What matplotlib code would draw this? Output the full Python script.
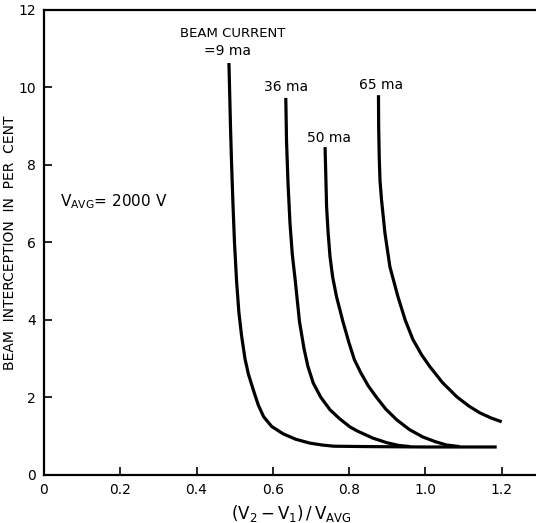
"""
Beam interception vs (V2 - V1)/V_avg for several beam currents
"""

import matplotlib.pyplot as plt

# curve data: x = (V2-V1)/Vavg, y = interception (%)
x_9ma = [0.485, 0.489, 0.492, 0.4955, 0.4995, 0.505, 0.511, 0.518, 0.527, 0.536,
         0.549, 0.562, 0.576, 0.597, 0.627, 0.66, 0.697, 0.73, 0.76, 0.85, 1.0, 1.187]
y_9ma = [10.63, 9.0, 8.0, 7.0, 6.0, 5.0, 4.2, 3.6, 3.0, 2.6,
         2.19, 1.8, 1.5, 1.25, 1.06, 0.92, 0.82, 0.77, 0.74, 0.73, 0.72, 0.72]

x_36ma = [0.634, 0.636, 0.640, 0.645, 0.651, 0.659, 0.670, 0.682, 0.692, 0.706,
          0.726, 0.75, 0.775, 0.802, 0.82, 0.862, 0.899, 0.93, 0.96]
y_36ma = [9.73, 8.6, 7.5, 6.5, 5.7, 5.0, 3.95, 3.25, 2.8, 2.37,
          2.0, 1.68, 1.45, 1.24, 1.14, 0.95, 0.83, 0.76, 0.73]

x_50ma = [0.737, 0.739, 0.741, 0.745, 0.750, 0.757, 0.767, 0.784, 0.800, 0.814,
          0.831, 0.850, 0.872, 0.896, 0.925, 0.958, 0.993, 1.025, 1.056, 1.09]
y_50ma = [8.46, 7.7, 6.92, 6.25, 5.63, 5.1, 4.6, 3.95, 3.4, 2.97,
          2.63, 2.3, 2.0, 1.7, 1.42, 1.17, 0.98, 0.86, 0.77, 0.73]

x_65ma = [0.877, 0.8775, 0.879, 0.881, 0.885, 0.894, 0.907, 0.928, 0.947, 0.967,
          0.99, 1.012, 1.045, 1.083, 1.115, 1.143, 1.172, 1.2]
y_65ma = [9.8, 9.0, 8.2, 7.6, 7.1, 6.24, 5.37, 4.6, 4.0, 3.5,
          3.1, 2.79, 2.38, 2.01, 1.77, 1.6, 1.47, 1.37]

curves = [(x_9ma, y_9ma), (x_36ma, y_36ma), (x_50ma, y_50ma), (x_65ma, y_65ma)]

x_ticks = [0, 0.2, 0.4, 0.6, 0.8, 1.0, 1.2]
x_tick_labels = ['0', '0.2', '0.4', '0.6', '0.8', '1.0', '1.2']
y_ticks = [0, 2, 4, 6, 8, 10, 12]

plt.rcParams['font.family'] = ['DejaVu Sans']
plt.rcParams['mathtext.fontset'] = 'dejavusans'

fig = plt.figure(figsize=(5.36, 5.23), dpi=100)
ax = fig.add_axes([0.082, 0.092, 0.918, 0.889])

for xs, ys in curves:
    ax.plot(xs, ys, color='black', linewidth=2.3, solid_capstyle='butt',
            solid_joinstyle='round')

ax.set_xlim(0, 1.29)
ax.set_ylim(0, 12)
ax.set_xticks(x_ticks)
ax.set_xticklabels(x_tick_labels)
ax.set_yticks(y_ticks)
ax.tick_params(direction='in', length=6, width=1.2, labelsize=10, pad=6)

ax.spines['right'].set_visible(False)
for side in ['left', 'top', 'bottom']:
    ax.spines[side].set_linewidth(1.6)

# curve labels
ax.text(0.495, 11.4, 'BEAM CURRENT', ha='center', va='center', fontsize=9.5)
ax.text(0.481, 10.93, '=9 ma', ha='center', va='center', fontsize=10)
ax.text(0.634, 10.0, '36 ma', ha='center', va='center', fontsize=10)
ax.text(0.747, 8.7, '50 ma', ha='center', va='center', fontsize=10)
ax.text(0.884, 10.05, '65 ma', ha='center', va='center', fontsize=10)
ax.text(0.042, 7.05, r'$\mathrm{V_{AVG}}$= 2000 V', ha='left', va='center', fontsize=11)

ax.set_ylabel('BEAM  INTERCEPTION  IN  PER  CENT', fontsize=10)
ax.yaxis.set_label_coords(-0.054, 0.5)
ax.text(0.502, -0.082, r'$(\mathrm{V_2 - V_1})\,/\,\mathrm{V_{AVG}}$',
        transform=ax.transAxes, ha='center', va='center', fontsize=12)

plt.savefig('out.png', dpi=100)
